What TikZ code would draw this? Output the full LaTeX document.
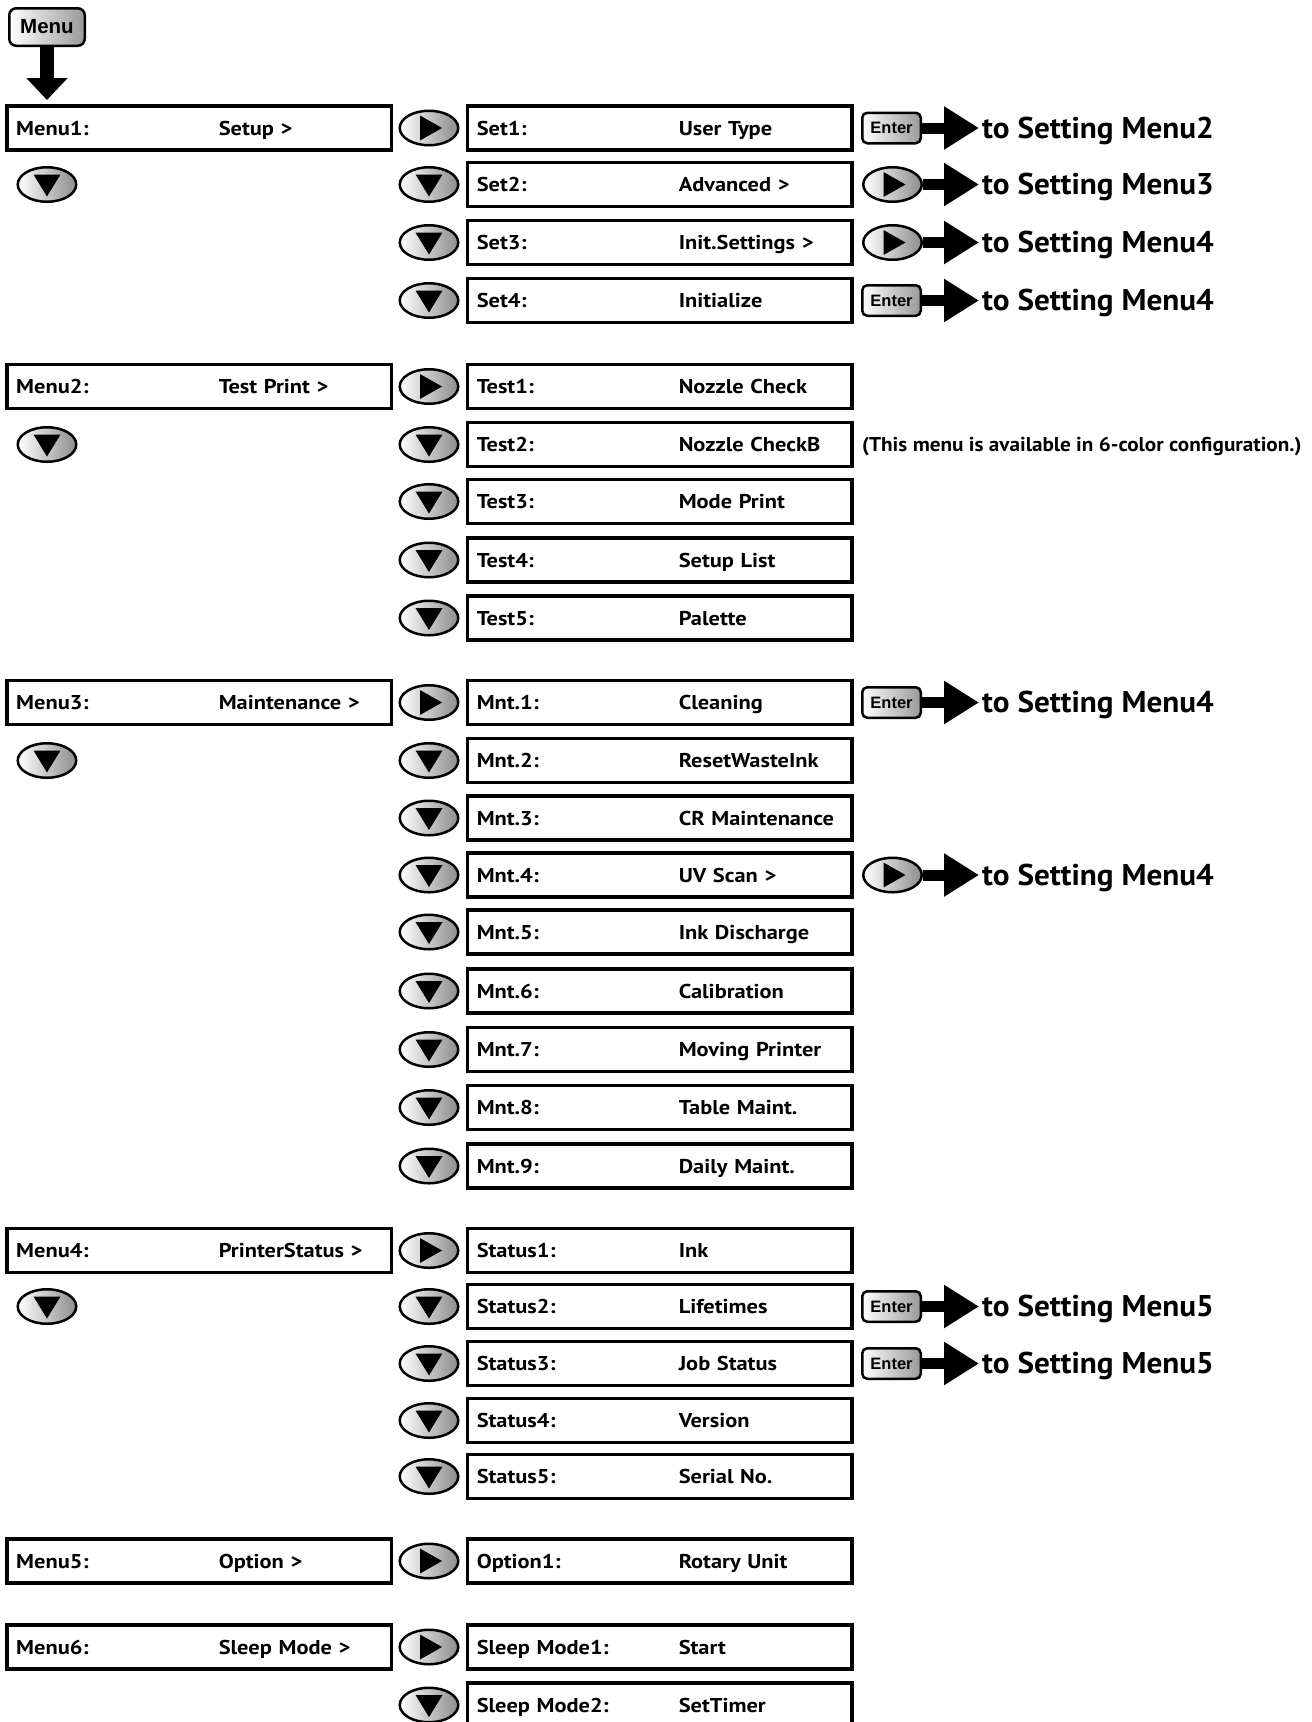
\documentclass[tikz,border=0pt]{standalone}
\usepackage{fontspec}
\usetikzlibrary{arrows.meta,shapes.geometric,backgrounds,calc}
\newfontfamily\boxfont{PT Sans}[FakeStretch=1.12]
\newfontfamily\bigfont{PT Sans}[FakeStretch=1.04]
\newfontfamily\notefont{PT Sans}[FakeStretch=1.06]
\newfontfamily\helv{Liberation Sans}
\tikzset{
  mbox/.style={draw, line width=3.5pt, fill=white, minimum width=384.5pt, minimum height=44pt,
    inner xsep=9.5pt, inner ysep=0pt, text width=365.5pt, align=left, text height=14.5pt, text depth=0pt,
    font=\boxfont\bfseries\fontsize{20}{24}\selectfont},
  oval/.style={ellipse, draw, line width=2.5pt, minimum width=58.5pt, minimum height=34.5pt,
    inner sep=0pt, left color=white, right color=black!45},
  btn/.style={rounded corners=5pt, draw, line width=2.5pt, left color=white, right color=black!40,
    minimum width=58.5pt, minimum height=30.5pt, inner sep=0pt, font=\helv\bfseries\fontsize{16.5}{18}\selectfont},
  menubtn/.style={rounded corners=7pt, draw, line width=2.5pt, left color=white, right color=black!40,
    minimum width=75.5pt, minimum height=37.5pt, inner sep=0pt, font=\helv\bfseries\fontsize{20.5}{24}\selectfont},
  bigarrow/.style={line width=11pt, -{Triangle[length=35pt, width=41pt]}},
  tostyle/.style={anchor=base west, inner sep=0pt, font=\bigfont\bfseries\fontsize{30}{36}\selectfont},
  notestyle/.style={anchor=base west, inner sep=0pt, font=\notefont\bfseries\fontsize{20}{24}\selectfont},
  vline/.style={line width=2.5pt}
}
\newcommand\rbox[4]{\node[mbox] (#1) at (659.5,#2) {\makebox[202pt][l]{#3}#4};}
\newcommand\lbox[4]{\node[mbox] (#1) at (199,#2) {\makebox[202.5pt][l]{#3}#4};}
\newcommand\dnb[3]{\node[oval] (#1) at (#2,#3) {}; \fill (#1.center) ++(-13.5,-10) -- ++(27,0) -- ++(-13.5,22) -- cycle;}
\newcommand\rtb[3]{\node[oval] (#1) at (#2,#3) {}; \fill (#1.center) ++(-9,-12.5) -- ++(0,25) -- ++(22,-12.5) -- cycle;}
\newcommand\entr[3]{\node[btn] (#1) at (891.5,#2) {Enter}; \coordinate (#1t) at (979,#2);
  \draw[bigarrow] (#1) -- (#1t); \node[tostyle] (#1x) at (982,#2+10) {to Setting #3};}
\newcommand\ovto[3]{\rtb{#1}{892.5}{#2} \coordinate (#1t) at (979,#2);
  \draw[bigarrow] (#1) -- (#1t); \node[tostyle] (#1x) at (982,#2+10) {to Setting #3};}
\begin{document}
\begin{tikzpicture}[x=1pt,y=-1pt]
\fill[white] (0,0) rectangle (1312,1722);
\useasboundingbox (0,0) rectangle (1312,1722);

% Menu button
\node[menubtn] (menu) at (47,27) {Menu};
\coordinate (mtip) at (47,100);
\draw[line width=14pt, -{Triangle[length=22pt,width=40pt]}] (menu.south) -- (mtip);

% left column
\lbox{m1}{128}{Menu1:}{Setup >}
\lbox{m2}{386.5}{Menu2:}{Test Print >}
\lbox{m3}{702.5}{Menu3:}{Maintenance >}
\lbox{m4}{1250.5}{Menu4:}{PrinterStatus >}
\lbox{m5}{1561}{Menu5:}{Option >}
\lbox{m6}{1647}{Menu6:}{Sleep Mode >}
\dnb{d1}{47}{184.5}
\dnb{d2}{47}{444.5}
\dnb{d3}{47}{760.5}
\dnb{d4}{47}{1306.5}
\begin{pgfonlayer}{background}
\draw[vline] (m1.south -| d1) -- (m6.north -| d1);
\end{pgfonlayer}

% right column boxes
\rbox{s1}{128}{Set1:}{User Type}
\rbox{s2}{184.5}{Set2:}{Advanced >}
\rbox{s3}{242.5}{Set3:}{Init.Settings >}
\rbox{s4}{300.5}{Set4:}{Initialize}
\rbox{t1}{386.5}{Test1:}{Nozzle Check}
\rbox{t2}{444.5}{Test2:}{Nozzle CheckB}
\rbox{t3}{501.5}{Test3:}{Mode Print}
\rbox{t4}{560}{Test4:}{Setup List}
\rbox{t5}{618}{Test5:}{Palette}
\rbox{n1}{702.5}{Mnt.1:}{Cleaning}
\rbox{n2}{760.5}{Mnt.2:}{ResetWasteInk}
\rbox{n3}{818}{Mnt.3:}{CR Maintenance}
\rbox{n4}{875}{Mnt.4:}{UV Scan >}
\rbox{n5}{932}{Mnt.5:}{Ink Discharge}
\rbox{n6}{991}{Mnt.6:}{Calibration}
\rbox{n7}{1049.5}{Mnt.7:}{Moving Printer}
\rbox{n8}{1107.5}{Mnt.8:}{Table Maint.}
\rbox{n9}{1166}{Mnt.9:}{Daily Maint.}
\rbox{u1}{1250.5}{Status1:}{Ink}
\rbox{u2}{1306.5}{Status2:}{Lifetimes}
\rbox{u3}{1363.5}{Status3:}{Job Status}
\rbox{u4}{1420.5}{Status4:}{Version}
\rbox{u5}{1476.5}{Status5:}{Serial No.}
\rbox{o1}{1561}{Option1:}{Rotary Unit}
\rbox{p1}{1647}{Sleep Mode1:}{Start}
\rbox{p2}{1705}{Sleep Mode2:}{SetTimer}

% right column buttons
\rtb{bs1}{429}{128}
\dnb{bs2}{429}{184.5}
\dnb{bs3}{429}{242.5}
\dnb{bs4}{429}{300.5}
\rtb{bt1}{429}{386.5}
\dnb{bt2}{429}{444.5}
\dnb{bt3}{429}{501.5}
\dnb{bt4}{429}{560}
\dnb{bt5}{429}{618}
\rtb{bn1}{429}{702.5}
\dnb{bn2}{429}{760.5}
\dnb{bn3}{429}{818}
\dnb{bn4}{429}{875}
\dnb{bn5}{429}{932}
\dnb{bn6}{429}{991}
\dnb{bn7}{429}{1049.5}
\dnb{bn8}{429}{1107.5}
\dnb{bn9}{429}{1166}
\rtb{bu1}{429}{1250.5}
\dnb{bu2}{429}{1306.5}
\dnb{bu3}{429}{1363.5}
\dnb{bu4}{429}{1420.5}
\dnb{bu5}{429}{1476.5}
\rtb{bo1}{429}{1561}
\rtb{bp1}{429}{1647}
\dnb{bp2}{429}{1705}

% targets
\entr{e1}{128}{Menu2}
\ovto{e2}{184.5}{Menu3}
\ovto{e3}{242.5}{Menu4}
\entr{e4}{300.5}{Menu4}
\entr{e5}{702.5}{Menu4}
\ovto{e6}{875}{Menu4}
\entr{e7}{1306.5}{Menu5}
\entr{e8}{1363.5}{Menu5}

\node[notestyle] (note) at (862,451.5) {(This menu is available in 6-color configuration.)};
\end{tikzpicture}
\end{document}
